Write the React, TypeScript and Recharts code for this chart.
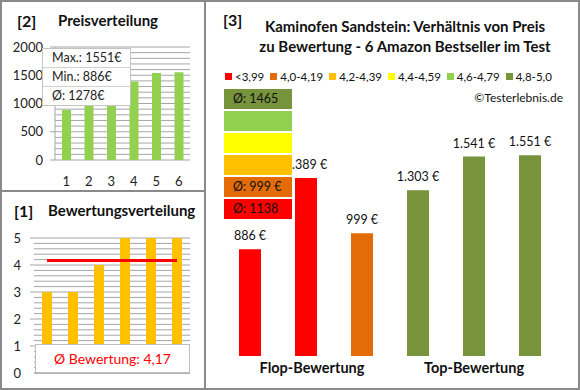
import { Bar, BarChart, CartesianGrid, Cell, ComposedChart, LabelList, Line, ReferenceLine, XAxis, YAxis } from "recharts"

const FONT = "Lato, 'Open Sans', sans-serif"
const GRID = "#a6a6a6"
const BORDER = "#8a8a8a"

// [2] Preisverteilung
const priceRank = ["1", "2", "3", "4", "5", "6"]
const pricesSorted = [886, 999, 1303, 1389, 1541, 1551]
const priceTicks = [0, 500, 1000, 1500, 2000]
const priceGrid = [0, 100, 200, 300, 400, 500, 600, 700, 800, 900, 1000, 1100, 1200, 1300, 1400, 1500, 1600, 1700, 1800, 1900, 2000]
const priceStats = ["Max.: 1551€", "Min.: 886€", "Ø: 1278€"]

// [1] Bewertungsverteilung
const ratingRank = ["1", "2", "3", "4", "5", "6"]
const ratings = [3, 3, 4, 5, 5, 5]
const ratingAvg = 4.17
const ratingTicks = [1, 2, 3, 4, 5]
const ratingGrid = [0, 0.2, 0.4, 0.6, 0.8, 1, 1.2, 1.4, 1.6, 1.8, 2, 2.2, 2.4, 2.6, 2.8, 3, 3.2, 3.4, 3.6, 3.8, 4, 4.2, 4.4, 4.6, 4.8, 5]

// [3] Preis zu Bewertung
const products = ["A", "B", "C", "D", "E", "F"]
const productPrices = [886, 1389, 999, 1303, 1541, 1551]
const productColors = ["#ff0000", "#ff0000", "#e36c09", "#77933c", "#77933c", "#77933c"]
const groupLabels = ["", "Flop-Bewertung", "", "", "Top-Bewertung", ""]
const legendLabels = ["<3,99", "4,0-4,19", "4,2-4,39", "4,4-4,59", "4,6-4,79", "4,8-5,0"]
const legendColors = ["#ff0000", "#e36c09", "#ffc000", "#ffff00", "#92d050", "#77933c"]
const avgLabels = ["Ø: 1465", "", "", "", "Ø: 999 €", "Ø: 1138"]
const avgColors = ["#77933c", "#92d050", "#ffff00", "#ffc000", "#e36c09", "#ff0000"]

const priceData = priceRank.map((r, i) => ({ rank: r, price: pricesSorted[i] }))
const ratingData = ratingRank.map((r, i) => ({ rank: r, rating: ratings[i], avg: ratingAvg }))
const productData = products.map((p, i) => ({ id: p, price: productPrices[i] }))

// minor grid lines: use the axis scale when we get one, else map over the plot offset
const gridGen = (values: number[], min: number, max: number) => (props: any) => {
  const scale = props?.yAxis?.scale
  if (typeof scale === "function") return values.map((v) => scale(v))
  if (scale && typeof scale.map === "function") return values.map((v) => scale.map(v))
  const { top, height } = props.offset
  return values.map((v) => top + height * (1 - (v - min) / (max - min)))
}

const euro = (v: any) => Number(v).toLocaleString("de-DE") + " €"

const PriceLabel = (props: any) => {
  const { x, y, width, value } = props
  return (
    <text x={x + width / 2} y={y - 9} textAnchor="middle" fill="#111" fontSize={12.5} fontFamily={FONT}>
      {euro(value)}
    </text>
  )
}

const GroupTick = (props: any) => {
  const { x, y, payload, index } = props
  const label = groupLabels[index ?? payload?.index ?? 0]
  if (!label) return null
  return (
    <text x={x + (index === 1 ? 6 : 0)} y={y} dy="0.71em" textAnchor="middle" fill="#111" fontSize={14.5} fontWeight={700} fontFamily={FONT}>
      {label}
    </text>
  )
}

const RatingTick = (props: any) => {
  const { x, y, payload } = props
  return (
    <text x={x} y={y} dy={4.5} textAnchor="end" fill="#222" fontSize={13} fontFamily={FONT}>
      {String(payload?.value)}
    </text>
  )
}

const abs = (left: number, top: number, extra: React.CSSProperties = {}): React.CSSProperties => ({
  position: "absolute",
  left,
  top,
  ...extra,
})

export default function App() {
  const tickStyle = { fill: "#222", fontSize: 13, fontFamily: FONT }
  return (
    <div style={{ position: "absolute", left: 0, top: 0, width: 580, height: 390, background: "#fff", fontFamily: FONT, overflow: "hidden" }}>
      {/* Panel [2] */}
      <div style={abs(0, 0)}>
        <BarChart width={205} height={191} data={priceData} margin={{ top: 47, right: 15, bottom: 0, left: 0 }}>
          <CartesianGrid vertical={false} stroke={GRID} horizontalCoordinatesGenerator={gridGen(priceGrid, 0, 2000)} />
          <XAxis dataKey="rank" height={31} axisLine={false} tickLine={false} tickSize={0} tickMargin={17} tick={tickStyle} />
          <YAxis domain={[0, 2000]} ticks={priceTicks} interval={0} width={55} axisLine={{ stroke: GRID }} tickLine={{ stroke: GRID }} tickSize={5} tickMargin={7} tick={tickStyle} />
          <Bar dataKey="price" fill="#92d050" barSize={9} isAnimationActive={false} />
        </BarChart>
      </div>
      <div style={abs(42, 48, { width: 89, background: "#fff", border: "1px solid #c4c4c4", boxSizing: "border-box" })}>
        {priceStats.map((s, i) => (
          <div key={s} style={{ height: 18, lineHeight: "18px", paddingLeft: 9, fontSize: 12.5, color: "#222", borderTop: i ? "1px solid #d0d0d0" : "none" }}>
            {s}
          </div>
        ))}
      </div>
      <div style={abs(17, 11, { fontSize: 16, fontWeight: 700, color: "#111" })}>[2]</div>
      <div style={abs(58, 11, { fontSize: 15, fontWeight: 700, color: "#111" })}>Preisverteilung</div>

      {/* Panel [1] */}
      <div style={abs(0, 191)}>
        <ComposedChart width={205} height={198} data={ratingData} margin={{ top: 47, right: 15, bottom: 0, left: 0 }}>
          <CartesianGrid vertical={false} stroke={GRID} horizontalCoordinatesGenerator={gridGen(ratingGrid, 0, 5)} />
          <XAxis dataKey="rank" height={16} tick={false} tickLine={false} axisLine={{ stroke: GRID }} />
          <YAxis domain={[0, 5]} ticks={ratingTicks} interval={0} width={34} axisLine={false} tickLine={{ stroke: GRID }} tickSize={4} tickMargin={9} tick={<RatingTick />} />
          <Bar dataKey="rating" fill="#ffc000" barSize={10} isAnimationActive={false} />
          <Line dataKey="avg" stroke="#ff0000" strokeWidth={3} dot={false} activeDot={false} isAnimationActive={false} />
          <ReferenceLine y={0} stroke={GRID} label={{ value: "0", position: "left", offset: 13, fill: "#222", fontSize: 13, fontFamily: FONT }} />
        </ComposedChart>
      </div>
      <div style={abs(35, 344, { width: 155, height: 29, background: "#fff", border: "1px solid #bfbfbf", boxSizing: "border-box", color: "#ff0000", fontSize: 14, textAlign: "center", lineHeight: "27px" })}>
        Ø Bewertung: 4,17
      </div>
      <div style={abs(14, 201, { fontSize: 16, fontWeight: 700, color: "#111" })}>[1]</div>
      <div style={abs(48, 201, { fontSize: 15, fontWeight: 700, color: "#111" })}>Bewertungsverteilung</div>

      {/* Panel [3] */}
      <div style={abs(205, 0)}>
        <BarChart width={374} height={389} data={productData} margin={{ top: 120, right: 21, bottom: 0, left: 17 }}>
          <XAxis dataKey="id" height={33} axisLine={false} tickLine={false} tickSize={0} tickMargin={7} interval={0} tick={<GroupTick />} />
          <YAxis hide domain={[130, 1800]} allowDataOverflow />
          <Bar dataKey="price" barSize={22} isAnimationActive={false}>
            {productData.map((d, i) => (
              <Cell key={d.id} fill={productColors[i]} />
            ))}
            <LabelList dataKey="price" content={<PriceLabel />} />
          </Bar>
        </BarChart>
      </div>
      <div style={abs(223, 10, { fontSize: 16, fontWeight: 700, color: "#111" })}>[3]</div>
      <div style={abs(230, 16, { width: 350, textAlign: "center", fontSize: 15, fontWeight: 700, lineHeight: "20px", color: "#111" })}>
        Kaminofen Sandstein: Verhältnis von Preis
        <br />
        zu Bewertung - 6 Amazon Bestseller im Test
      </div>
      <div style={abs(225, 70, { display: "flex", alignItems: "center", fontSize: 11.5, color: "#111", whiteSpace: "nowrap" })}>
        {legendLabels.map((l, i) => (
          <div key={l} style={{ display: "flex", alignItems: "center", marginRight: 6 }}>
            <span style={{ width: 7, height: 7, background: legendColors[i], marginRight: 3, display: "inline-block" }} />
            {l}
          </div>
        ))}
      </div>
      <div style={{ position: "absolute", right: 17, top: 90, fontSize: 12, color: "#111" }}>©Testerlebnis.de</div>
      <div style={abs(224, 89, { width: 68 })}>
        {avgLabels.map((l, i) => (
          <div key={i} style={{ height: 20, marginBottom: 2, background: avgColors[i], fontSize: 12.5, color: "#111", lineHeight: "20px", paddingLeft: 9 }}>
            {l}
          </div>
        ))}
      </div>

      {/* frames */}
      <div style={abs(0, 0, { width: 580, height: 390, border: `2px solid ${BORDER}`, boxSizing: "border-box", pointerEvents: "none" })} />
      <div style={abs(204, 0, { width: 2, height: 390, background: BORDER })} />
      <div style={abs(0, 190, { width: 205, height: 2, background: BORDER })} />
    </div>
  )
}
